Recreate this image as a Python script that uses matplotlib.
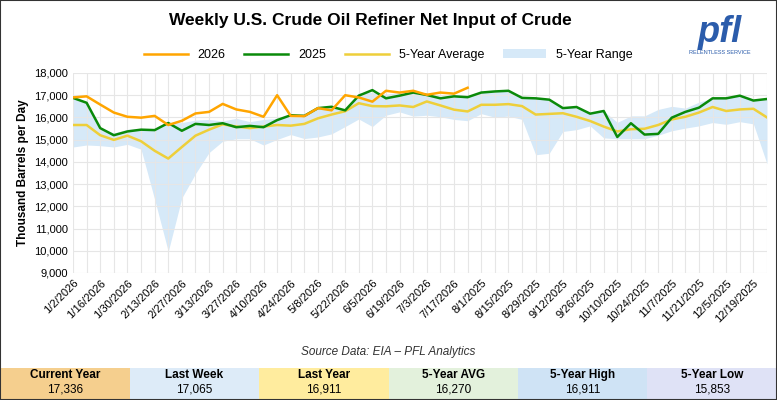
import matplotlib.pyplot as plt
import numpy as np
from matplotlib.patches import Rectangle

plt.rcParams['font.family'] = ['Liberation Sans', 'DejaVu Sans']

weeks = ["1/2/2026", "1/9/2026", "1/16/2026", "1/23/2026", "1/30/2026", "2/6/2026", "2/13/2026", "2/20/2026",
         "2/27/2026", "3/6/2026", "3/13/2026", "3/20/2026", "3/27/2026", "4/3/2026", "4/10/2026", "4/17/2026",
         "4/24/2026", "5/1/2026", "5/8/2026", "5/15/2026", "5/22/2026", "5/29/2026", "6/5/2026", "6/12/2026",
         "6/19/2026", "6/26/2026", "7/3/2026", "7/10/2026", "7/17/2026", "7/24/2026", "8/1/2025", "8/8/2025",
         "8/15/2025", "8/22/2025", "8/29/2025", "9/5/2025", "9/12/2025", "9/19/2025", "9/26/2025", "10/3/2025",
         "10/10/2025", "10/17/2025", "10/24/2025", "10/31/2025", "11/7/2025", "11/14/2025", "11/21/2025",
         "11/28/2025", "12/5/2025", "12/12/2025", "12/19/2025", "12/26/2025"]

y2026 = [16900, 16950, 16580, 16220, 16030, 15990, 16070, 15660, 15850, 16180, 16250, 16610, 16360, 16250,
         16030, 17000, 16070, 16060, 16420, 16320, 17000, 16900, 16710, 17200, 17120, 17200, 17020, 17120,
         17070, 17336]
y2025 = [16880, 16660, 15520, 15200, 15370, 15450, 15430, 15750, 15400, 15710, 15660, 15740, 15560, 15620,
         15560, 15880, 16100, 16070, 16420, 16480, 16320, 16980, 17230, 16860, 16980, 17120, 17010, 16860,
         16950, 16911, 17120, 17170, 17200, 16880, 16860, 16800, 16420, 16470, 16170, 16290, 15120, 15740,
         15230, 15260, 15990, 16250, 16440, 16860, 16860, 16980, 16760, 16830]
avg5 = [15660, 15660, 15200, 14990, 15180, 14930, 14500, 14150, 14670, 15180, 15450, 15690, 15590, 15520,
        15590, 15660, 15630, 15710, 15960, 16130, 16280, 16640, 16510, 16500, 16540, 16470, 16720, 16540,
        16350, 16270, 16570, 16570, 16600, 16510, 16130, 16160, 16190, 16030, 15840, 15590, 15370, 15470,
        15490, 15660, 15910, 16030, 16220, 16470, 16290, 16360, 16390, 16000]
low5 = [14670, 14760, 14730, 14670, 14790, 14570, 12310, 9970, 12380, 13470, 14420, 14930, 15040, 15040,
        14760, 15010, 15230, 15050, 15120, 15260, 15590, 15930, 15590, 16100, 16250, 16060, 16100, 16030,
        15910, 15853, 16170, 16010, 16060, 15910, 14320, 14390, 15370, 15450, 15620, 15080, 15040, 15040,
        15040, 15200, 15400, 15520, 15620, 15770, 15690, 15810, 15710, 13910]
high5 = [16880, 16690, 15520, 15300, 15470, 15490, 15450, 15750, 15770, 15880, 15910, 15840, 15960, 15810,
         15910, 15960, 16100, 16180, 16470, 16510, 16320, 17120, 17120, 17050, 17120, 17120, 17050, 16950,
         16980, 16911, 17120, 17170, 17200, 16880, 16860, 16800, 16420, 16470, 16170, 16290, 15780, 16070,
         16070, 16360, 16500, 16420, 16690, 16860, 16860, 16980, 16760, 16830]

box_labels = ["Current Year", "Last Week", "Last Year", "5-Year AVG", "5-Year High", "5-Year Low"]
box_values = ["17,336", "17,065", "16,911", "16,270", "16,911", "15,853"]
box_colors = ["#F5CF8E", "#DDEBF8", "#FFEC9E", "#E3F1DC", "#CFE3F5", "#DFE2F6"]

fig = plt.figure(figsize=(7.77, 4.0), dpi=100)
ax = fig.add_axes([73/777, 1-273/400, 694/777, 200/400])
x = np.arange(len(weeks))
ax.fill_between(x, low5, high5, color="#D6E9F8", lw=0, label="5-Year Range", zorder=1)
ax.plot(x, avg5, color="#EECF3A", lw=1.8, label="5-Year Average", zorder=2)
ax.plot(x, y2025, color="#0A8A0A", lw=1.8, label="2025", zorder=3)
ax.plot(np.arange(len(y2026)), y2026, color="#FFA500", lw=1.8, label="2026", zorder=4)
ax.set_xlim(0, len(weeks) - 1)
ax.set_ylim(9000, 18000)
ax.set_yticks(range(9000, 18001, 1000))
ax.set_yticklabels([f"{v:,}" for v in range(9000, 18001, 1000)], fontsize=8)
ax.set_xticks(x[::2])
ax.set_xticklabels(weeks[::2], rotation=45, ha="right", rotation_mode="anchor", fontsize=8)
ax.set_xticks(x[1::2], minor=True)
ax.grid(True, which="both", color="#E6E6E6", lw=0.8)
ax.tick_params(length=0, which="both")
for s in ax.spines.values():
    s.set_visible(False)
ax.set_ylabel("Thousand Barrels per Day", fontsize=8.5, fontweight="bold")

h, l = ax.get_legend_handles_labels()
order = [3, 2, 1, 0]
fig.legend([h[i] for i in order], [l[i] for i in order], loc="center", bbox_to_anchor=(0.5, 1-55/400),
           ncol=4, frameon=False, fontsize=9, handlelength=3.5, columnspacing=1.5)

fig.text(370/777, 1-20/400, "Weekly U.S. Crude Oil Refiner Net Input of Crude", ha="center", va="center",
         fontsize=12.5, fontweight="bold")
fig.text(720/777, 1-32/400, "pfl", ha="center", va="center", fontsize=26, fontweight="bold",
         color="#2B5CAB", style="italic")
fig.text(720/777, 1-52/400, "RELENTLESS SERVICE", ha="center", va="center", fontsize=4, color="#2B5CAB")
fig.text(0.5, 1-352/400, "Source Data: EIA \u2013 PFL Analytics", ha="center", va="center", fontsize=8.5,
         style="italic", color="#333333")

w = 1/6
for i, (lab, val, c) in enumerate(zip(box_labels, box_values, box_colors)):
    fig.add_artist(Rectangle((i*w, 0), w, 32/400, transform=fig.transFigure, color=c, lw=0))
    fig.text(i*w + w/2, 1-375/400, lab, ha="center", va="center", fontsize=8.5, fontweight="bold")
    fig.text(i*w + w/2, 1-390/400, val, ha="center", va="center", fontsize=8.5)
fig.add_artist(Rectangle((0, 0), 1, 1, transform=fig.transFigure, fill=False, ec="#333333", lw=1.5))

fig.savefig("out.png", dpi=100)
